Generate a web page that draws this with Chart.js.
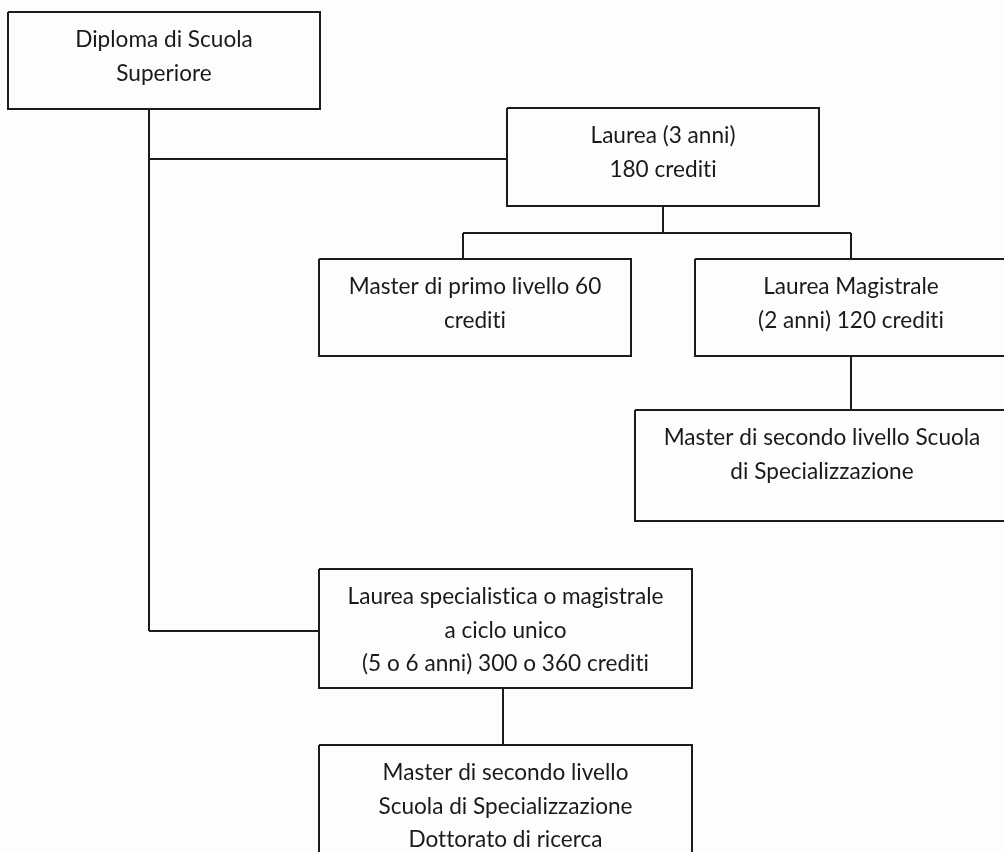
<!DOCTYPE html>
<html><head><meta charset="utf-8">
<script src="https://cdn.jsdelivr.net/npm/chart.js@4.4.1/dist/chart.umd.min.js"></script>
<style>html,body{margin:0;padding:0;background:#fdfdfd;overflow:hidden}#wrap{width:1004px;height:852px}</style>
</head><body><div id="wrap"><canvas id="c" width="1004" height="852"></canvas></div>
<script>
// ---- data: nodes of the diagram ----
const nodeLabels = [
  ["Diploma di Scuola", "Superiore"],
  ["Laurea (3 anni)", "180 crediti"],
  ["Master di primo livello 60", "crediti"],
  ["Laurea Magistrale", "(2 anni) 120 crediti"],
  ["Master di secondo livello Scuola", "di Specializzazione"],
  ["Laurea specialistica o magistrale", "a ciclo unico", "(5 o 6 anni) 300 o 360 crediti"],
  ["Master di secondo livello", "Scuola di Specializzazione", "Dottorato di ricerca"]
];
const nodeParent = [null, 0, 1, 1, 3, 0, 5];

// ---- layout (diagram units) ----
const boxLeft   = [8, 507, 319, 695, 635, 319, 319];
const boxTop    = [12, 108, 259, 259, 410, 569, 745];
const boxRight  = [320, 819, 631, 1007, 1009, 692, 692];
const boxBottom = [109, 206, 356, 356, 521, 688, 870];
const stemX     = [149, 663, null, 851, null, 503, null];
const busY      = [null, 233, null, 383, null, 716, null];
const attachSide = [null, 'left', 'top', 'top', 'top', 'left', 'top'];
const attachPos  = [null, 159, 463, 851, 851, 631, 503];

const LINE = '#1c1c1c';
const FONT = '22.6px Lato';

function lineDs(points) {
  return { data: points, showLine: true, borderColor: LINE, borderWidth: 2,
           pointRadius: 0, fill: false, tension: 0, clip: false };
}
const datasets = [];
// boxes
for (let i = 0; i < nodeLabels.length; i++) {
  const l = boxLeft[i], t = boxTop[i], r = boxRight[i], b = boxBottom[i];
  datasets.push(lineDs([{x:l,y:t},{x:r,y:t},{x:r,y:b},{x:l,y:b},{x:l,y:t}]));
}
// connectors
for (let p = 0; p < nodeLabels.length; p++) {
  const kids = nodeParent.map((q, i) => q === p ? i : -1).filter(i => i >= 0);
  if (!kids.length) continue;
  const sx = stemX[p];
  const leftKids = kids.filter(k => attachSide[k] === 'left');
  const topKids = kids.filter(k => attachSide[k] === 'top');
  if (leftKids.length) {
    const maxY = Math.max(...leftKids.map(k => attachPos[k]));
    datasets.push(lineDs([{x:sx,y:boxBottom[p]},{x:sx,y:maxY}]));
    leftKids.forEach(k => datasets.push(lineDs([{x:sx,y:attachPos[k]},{x:boxLeft[k],y:attachPos[k]}])));
  }
  if (topKids.length) {
    const by = busY[p];
    datasets.push(lineDs([{x:sx,y:boxBottom[p]},{x:sx,y:by}]));
    const xs = topKids.map(k => attachPos[k]).concat([sx]);
    datasets.push(lineDs([{x:Math.min(...xs),y:by},{x:Math.max(...xs),y:by}]));
    topKids.forEach(k => datasets.push(lineDs([{x:attachPos[k],y:by},{x:attachPos[k],y:boxTop[k]}])));
  }
}

const labelPlugin = {
  id: 'nodeLabels',
  afterDatasetsDraw(chart) {
    const {ctx, scales: {x, y}} = chart;
    ctx.save();
    ctx.fillStyle = '#1a1a1a';
    ctx.font = FONT;
    try { ctx.textRendering = 'optimizeSpeed'; } catch (e) {}
    ctx.textAlign = 'center';
    ctx.textBaseline = 'alphabetic';
    nodeLabels.forEach((lines, i) => {
      const cx = x.getPixelForValue((boxLeft[i] + boxRight[i]) / 2);
      lines.forEach((s, j) => {
        ctx.fillText(s, cx, y.getPixelForValue(boxTop[i] + 35 + j * 33.5));
      });
    });
    ctx.restore();
  }
};

new Chart(document.getElementById('c'), {
  type: 'scatter',
  data: { datasets },
  options: {
    responsive: false, animation: false, devicePixelRatio: 1, events: [],
    layout: { padding: 0 },
    plugins: { legend: { display: false }, tooltip: { enabled: false } },
    scales: {
      x: { type: 'linear', min: 0, max: 1004, display: false },
      y: { type: 'linear', min: 0, max: 852, reverse: true, display: false }
    }
  },
  plugins: [labelPlugin]
});
</script></body></html>
